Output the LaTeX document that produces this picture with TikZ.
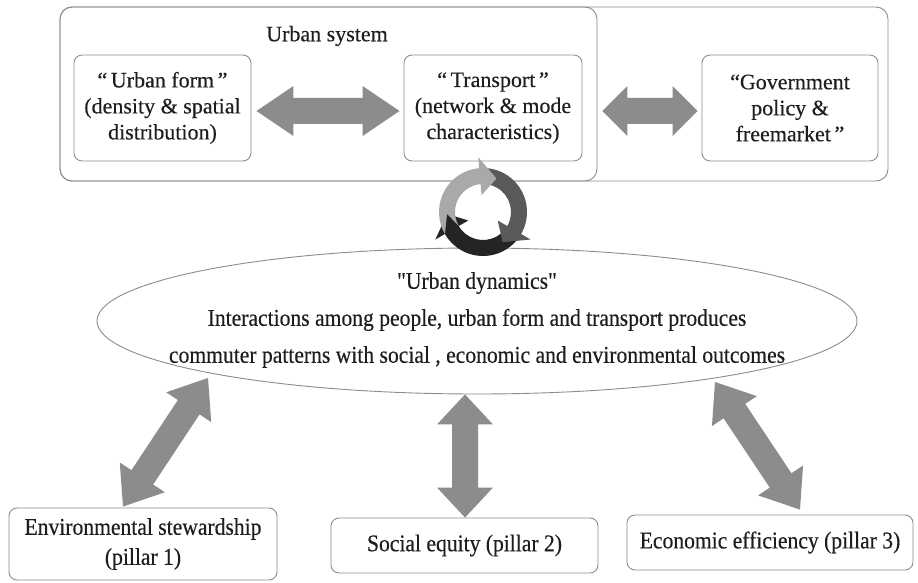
\documentclass[tikz,border=0pt]{standalone}
\usepackage{fontspec}
\setmainfont[FakeBold=0.35]{Liberation Serif}
\newfontfamily\narrowserif[FakeStretch=0.9,FakeBold=0.35,Ligatures=TeXOff]{Liberation Serif}
\usetikzlibrary{calc,shapes.geometric}

\definecolor{boxline}{HTML}{8C8C8C}
\definecolor{arrowgray}{HTML}{8C8C8C}
\definecolor{cyclelight}{HTML}{A9A9A9}
\definecolor{cyclemid}{HTML}{5A5A5A}
\definecolor{cycledark}{HTML}{242424}
\definecolor{ink}{HTML}{1E1E1E}

\tikzset{
  frame/.style={draw=boxline, line width=0.9pt, rounded corners=12pt, inner sep=0pt},
  box/.style={draw=boxline, line width=0.9pt, rounded corners=8pt, align=center, inner sep=0pt, text=ink},
  toptext/.style={font=\fontsize{22}{26}\selectfont, text=ink},
  lowtext/.style={font=\narrowserif\fontsize{24}{30}\selectfont},
  dyntext/.style={font=\narrowserif\fontsize{24}{37}\selectfont, align=center, text=ink},
  arrowfill/.style={fill=arrowgray},
}

% double-headed block arrow between two named points:
% #1 start, #2 end, #3 head length, #4 half head width, #5 half shaft width
\newcommand\blockarrow[5]{%
  \coordinate (ba-h1) at ($(#1)!#3!(#2)$);
  \coordinate (ba-h2) at ($(#2)!#3!(#1)$);
  \fill[arrowfill] (#1)
    -- ($(ba-h1)!#4!90:(#2)$) -- ($(ba-h1)!#5!90:(#2)$)
    -- ($(ba-h2)!#5!-90:(#1)$) -- ($(ba-h2)!#4!-90:(#1)$)
    -- (#2)
    -- ($(ba-h2)!#4!90:(#1)$) -- ($(ba-h2)!#5!90:(#1)$)
    -- ($(ba-h1)!#5!-90:(#2)$) -- ($(ba-h1)!#4!-90:(#2)$)
    -- cycle;}

% one curved arrow of the cycle symbol: #1 colour, #2 tail angle, #3 head base angle
\newcommand\cyclepart[3]{%
  \fill[#1] (#2:44) arc[start angle=#2, end angle=#3, radius=44]
    -- (#3:55) -- ({#3+27}:36) -- (#3:17) -- (#3:28)
    arc[start angle=#3, end angle=#2, radius=28]
    -- ({#2+27}:36) -- cycle;}

\begin{document}
\begin{tikzpicture}[x=1pt, y=-1pt]
\useasboundingbox[fill=white] (0,0) rectangle (918,583);

% upper frames
\node[frame, minimum width=828pt, minimum height=174pt] (outer) at (474,94) {};
\node[frame, minimum width=537pt, minimum height=174pt] (usys) at (328.5,94) {};
\node[toptext] (usyslabel) at (327,36) {Urban system};

% upper boxes
\node[box, toptext, minimum width=177pt, minimum height=106pt] (uform) at (162.5,108)
  {“\,Urban form\,”\\(density \& spatial\\distribution)};
\node[box, toptext, minimum width=178pt, minimum height=106pt] (transport) at (493,108)
  {“\,Transport\,”\\(network \& mode\\characteristics)};
\node[box, toptext, minimum width=176pt, minimum height=106pt] (gov) at (790,108)
  {“Government\\policy \&\\freemarket\,”};

% urban dynamics ellipse
\node[ellipse, draw=boxline, line width=0.9pt, minimum width=760pt, minimum height=146pt, inner sep=0pt] (dyn) at (477,321) {};
\node[dyntext] (dynlabel) at (477,320)
  {"Urban dynamics"\\Interactions among people, urban form and transport produces\\commuter patterns with social , economic and environmental outcomes};

% pillars
\node[box, lowtext, minimum width=268pt, minimum height=72pt] (env) at (143,544)
  {Environmental stewardship\\(pillar 1)};
\node[box, lowtext, minimum width=267pt, minimum height=55pt] (soc) at (464.5,545.5)
  {Social equity (pillar 2)};
\node[box, lowtext, minimum width=286pt, minimum height=55pt] (eco) at (770,542.5)
  {Economic efficiency (pillar 3)};

% block arrows
\coordinate (a1s) at ($(uform.east)+(5,3)$);
\coordinate (a1e) at ($(transport.west)+(-4,3)$);
\blockarrow{a1s}{a1e}{37pt}{25pt}{13pt}

\coordinate (a2s) at ($(transport.east)+(20,3)$);
\coordinate (a2e) at ($(gov.west)+(-4,3)$);
\blockarrow{a2s}{a2e}{25pt}{25pt}{13pt}

\coordinate (a3s) at ($(dyn.south)+(-12,0)$);
\coordinate (a3e) at ($(soc.north)+(0.5,0)$);
\blockarrow{a3s}{a3e}{30pt}{28pt}{13pt}

\coordinate (a4s) at (208,378);
\coordinate (a4e) at ($(env.north)+(-20,-1)$);
\blockarrow{a4s}{a4e}{35pt}{27pt}{13pt}

\coordinate (a5s) at (715,382);
\coordinate (a5e) at ($(eco.north)+(30,-5)$);
\blockarrow{a5s}{a5e}{35pt}{27pt}{13pt}

% cycle symbol
\coordinate (cyc) at (483,212);
\begin{scope}[shift={(cyc)}]
  \cyclepart{cycledark}{30}{150}
  \cyclepart{cyclemid}{265}{390}
  \cyclepart{cyclelight}{150}{265}
\end{scope}
\end{tikzpicture}
\end{document}
